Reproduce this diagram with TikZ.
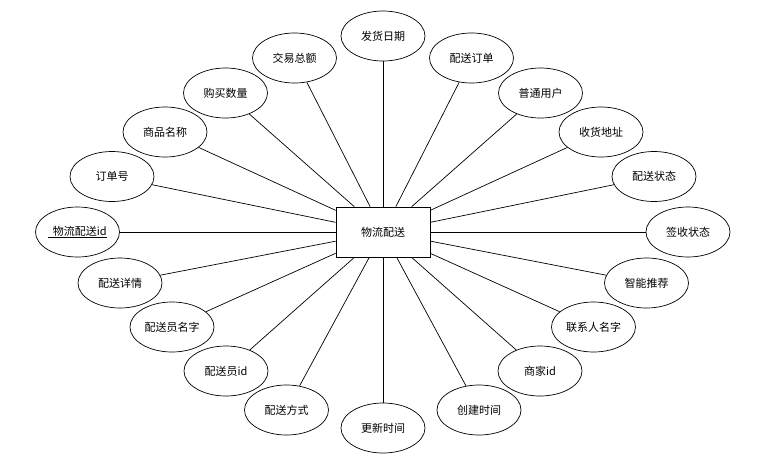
\documentclass[tikz,border=0pt]{standalone}
\usepackage{fontspec}
\setmainfont{Noto Sans CJK SC}
\usetikzlibrary{shapes}

\begin{document}
\begin{tikzpicture}[
x=1pt, y=-1pt,
line width=0.7pt,
font=\fontsize{11pt}{13pt}\selectfont
]

\tikzstyle{a} = [draw, shape=ellipse, minimum width=84pt, minimum height=50pt, inner sep=0pt]
\tikzstyle{r} = [draw, shape=rectangle, minimum width=94pt, minimum height=50pt]
\useasboundingbox (0,0) rectangle (772,461);

\node[r] (wlps) at (383,232) {物流配送};

% attributes, clockwise from top
\node[a] (fhrq) at (383,36)    {发货日期};
\node[a] (psdd) at (471.5,58)  {配送订单};
\node[a] (ptyh) at (540.5,93)  {普通用户};
\node[a] (shdz) at (601,132)   {收货地址};
\node[a] (pszt) at (654,176.5) {配送状态};
\node[a] (qszt) at (688,232)   {签收状态};
\node[a] (zntj) at (646.5,283) {智能推荐};
\node[a] (lxrm) at (593.5,327) {联系人名字};
\node[a] (sjid) at (540,371)   {商家id};
\node[a] (cjsj) at (479,410)   {创建时间};
\node[a] (gxsj) at (383,428)   {更新时间};
\node[a] (psfs) at (286.5,410) {配送方式};
\node[a] (psyid) at (226,371)  {配送员id};
\node[a] (psym) at (172,327)   {配送员名字};
\node[a] (psxq) at (120,283)   {配送详情};
\node[a] (wlid) at (77.5,232)  {\underline{\hspace{0.4em}物流配送id}};
\node[a] (ddh) at (112,176.5)  {订单号};
\node[a] (spmc) at (165,132)   {商品名称};
\node[a] (gmsl) at (225.5,93)  {购买数量};
\node[a] (jyze) at (294.5,58)  {交易总额};

% links
\foreach \n in {fhrq,psdd,ptyh,shdz,pszt,qszt,zntj,lxrm,sjid,cjsj,gxsj,psfs,psyid,psym,psxq,wlid,ddh,spmc,gmsl,jyze}
    \draw (\n) -- (wlps);
\end{tikzpicture}
\end{document}
